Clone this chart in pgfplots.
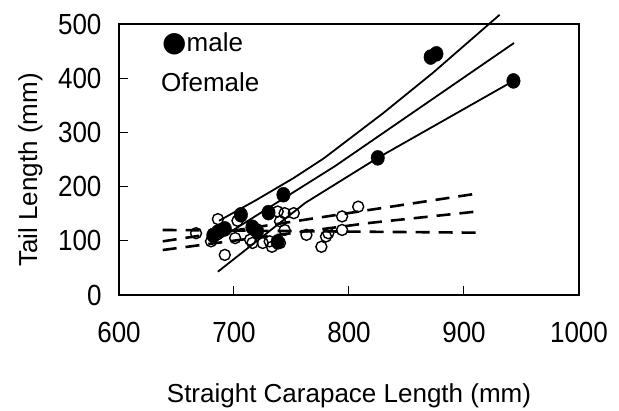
\documentclass[border=0pt]{standalone}
\usepackage{fontspec}
\setmainfont{Liberation Sans}
\newfontfamily\sym{DejaVu Sans}
\usepackage{pgfplots}
\pgfplotsset{compat=1.18}
\begin{document}
\begin{tikzpicture}[x=1pt,y=1pt]
\path (-119,-110) rectangle (500,295);
\begin{axis}[
  at={(0,0)}, anchor=south west,
  width=460pt, height=271pt, scale only axis,
  xmin=600, xmax=1000, ymin=0, ymax=500,
  xtick={600,700,800,900,1000}, ytick={0,100,200,300,400,500},
  tick pos=left, tick align=inside, major tick length=9pt,
  axis line style={line width=1.6pt},
  tick style={line width=1pt, black},
  clip=false,
  /pgf/number format/assume math mode=true,
  /pgf/number format/1000 sep={},
  every tick label/.append style={font=\fontsize{26}{26}\selectfont, yscale=1.12},
  xticklabel style={anchor=base, yshift=-42pt},
  yticklabel style={anchor=east, xshift=-14pt},
  xlabel={Straight Carapace Length (mm)},
  ylabel={Tail Length (mm)},
  label style={font=\fontsize{26}{26}\selectfont},
  xlabel style={at={(axis description cs:0.5,-0.395)}, anchor=base},
  ylabel style={at={(axis description cs:-0.178,0.461)}, anchor=base, rotate=0},
]
% male regression line and bands
\addplot[line width=1.8pt, black] coordinates {
 (687,137) (720,176) (752,216) (778,252) (830,336) (873,410) (931,517)};
\addplot[line width=1.8pt, black] coordinates {(686,102) (743,178) (788,238) (943.5,465)};
\addplot[line width=1.8pt, black] coordinates {(686,43) (762,170) (825,253) (943,395)};
% female regression lines
\addplot[line width=2.6pt, black, dash pattern=on 14pt off 9pt] coordinates {(638,120) (911,115)};
\addplot[line width=2.6pt, black, dash pattern=on 14pt off 9pt] coordinates {(638,99) (911,187)};
\addplot[line width=2.6pt, black, dash pattern=on 14pt off 9pt] coordinates {(638,83) (818,133) (911,154)};
% females
\addplot[only marks, mark=o, mark size=5.5pt, mark options={line width=1.4pt, black}] coordinates {
 (667,114) (680,99) (683,111) (686,140) (692,74) (701,105) (703,137) (714,102)
 (716,96) (725,96) (731,99) (733,89) (738,154) (740,136) (744,120) (744,151)
 (752,151) (763,111) (776,89) (780,108) (782,114) (794,145) (794,120) (808,163) (740,96)};
% males
\addplot[only marks, mark=*, mark size=7.5pt, mark options={xscale=0.9, fill=black, draw=black}] coordinates {
 (682,110) (686,116) (692,122) (706,148) (716,125) (720,118) (730,152) (738,98)
 (743,185) (825,253) (871,439) (876,445) (943,395)};
\node[anchor=base west, font=\fontsize{26}{26}\selectfont, inner sep=0pt] at (axis cs:637.4,450) {{\sym\fontsize{28}{28}\selectfont ●}male};
\node[anchor=base west, font=\fontsize{26}{26}\selectfont, inner sep=0pt] at (axis cs:636.5,376) {Ofemale};
\end{axis}
\end{tikzpicture}
\end{document}
